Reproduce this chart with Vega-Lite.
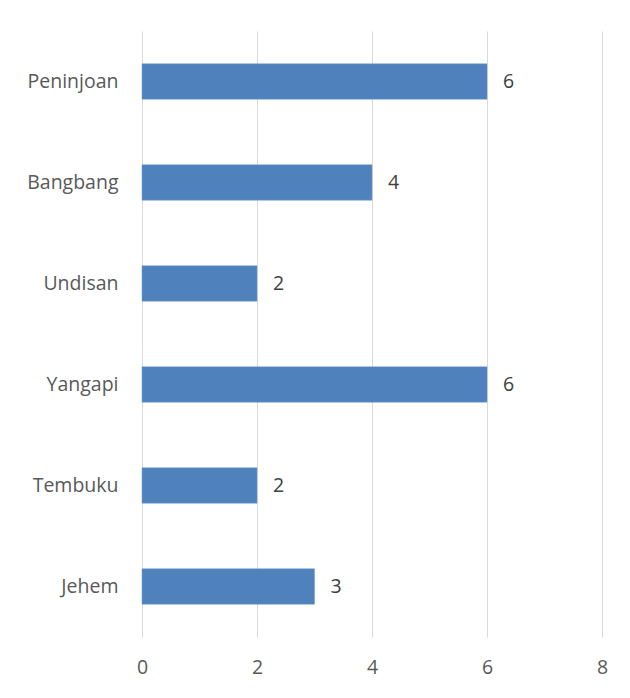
{
  "$schema": "https://vega.github.io/schema/vega-lite/v6.json",
  "width": 460,
  "height": 606,
  "autosize": "none",
  "padding": {"left": 142, "top": 31, "right": 28, "bottom": 61},
  "background": "white",
  "config": {
    "view": {"stroke": null},
    "font": "Open Sans",
    "axis": {"labelFont": "Open Sans", "labelColor": "#595959", "labelFontSize": 19.5}
  },
  "data": {
    "values": [
      {"desa": "Peninjoan", "jumlah": 6},
      {"desa": "Bangbang", "jumlah": 4},
      {"desa": "Undisan", "jumlah": 2},
      {"desa": "Yangapi", "jumlah": 6},
      {"desa": "Tembuku", "jumlah": 2},
      {"desa": "Jehem", "jumlah": 3}
    ]
  },
  "encoding": {
    "y": {
      "field": "desa",
      "type": "nominal",
      "sort": null,
      "scale": {"paddingInner": 0.65, "paddingOuter": 0.325},
      "axis": {"title": null, "domain": false, "ticks": false, "labelPadding": 24}
    },
    "x": {
      "field": "jumlah",
      "type": "quantitative",
      "scale": {"domain": [0, 8]},
      "axis": {
        "title": null,
        "values": [0, 2, 4, 6, 8],
        "domain": false,
        "ticks": false,
        "grid": true,
        "gridColor": "#d9d9d9",
        "gridWidth": 1,
        "labelFlush": false,
        "labelPadding": 21
      }
    }
  },
  "layer": [
    {"mark": {"type": "bar", "color": "#4f81bd", "stroke": "#6f9bd1", "strokeWidth": 0.5}},
    {
      "mark": {"type": "text", "align": "left", "baseline": "middle", "dx": 16, "fontSize": 19.5, "color": "#404040", "font": "Open Sans"},
      "encoding": {"text": {"field": "jumlah", "type": "quantitative"}}
    }
  ]
}
